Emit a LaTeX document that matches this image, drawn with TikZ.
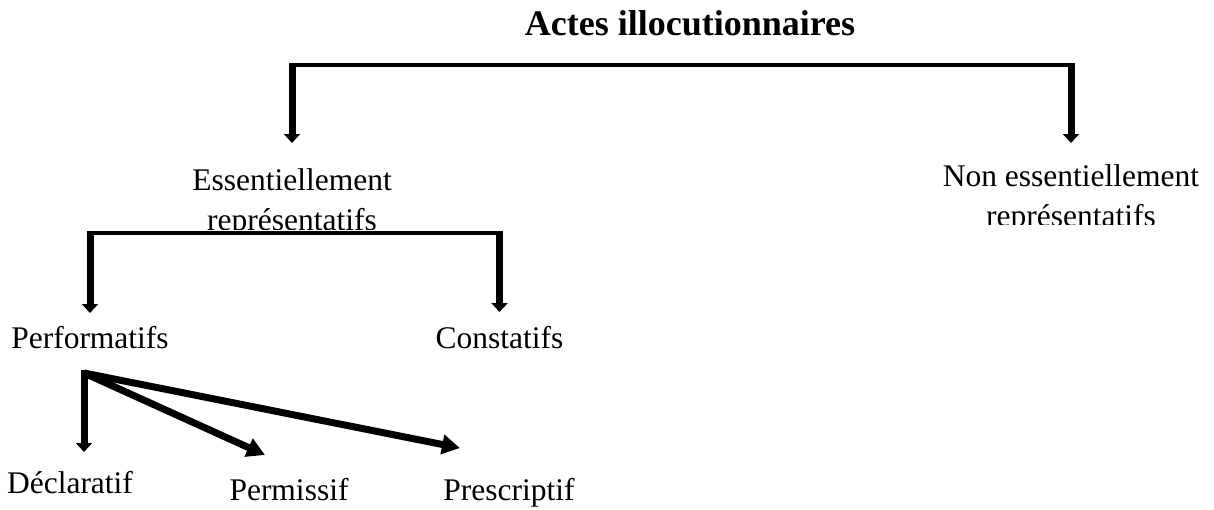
\documentclass[tikz,border=0pt]{standalone}
\usepackage{fontspec}
\setmainfont{Liberation Serif}
\usetikzlibrary{arrows.meta,calc}

\tikzset{
  label/.style={inner sep=0pt, anchor=base, font=\fontsize{31.5}{40}\selectfont},
  titletext/.style={inner sep=0pt, anchor=base, font=\fontsize{36}{42}\selectfont\bfseries},
  hbar/.style={line width=4.5pt, line cap=rect},
  varrow/.style={line width=7pt, -{Triangle[length=9pt,width=16pt]}},
  darrow/.style={line width=7pt, -{Triangle[length=18pt,width=19pt]}},
}

\begin{document}
\begin{tikzpicture}[x=1pt,y=-1pt]
  \useasboundingbox (0,0) rectangle (1214,509);

  % heading
  \node[titletext] (title) at (690,35) {Actes illocutionnaires};

  % first level (second line is cut by the frame of the text box)
  \begin{scope}
    \clip (120,100) rectangle (470,229);
    \node[label] (ess) at (292,190)
      {\begin{tabular}[t]{@{}c@{}}Essentiellement\\représentatifs\end{tabular}};
  \end{scope}
  \begin{scope}
    \clip (900,100) rectangle (1214,224);
    \node[label] (non) at (1071,186)
      {\begin{tabular}[t]{@{}c@{}}Non essentiellement\\représentatifs\end{tabular}};
  \end{scope}

  % second level
  \node[label] (perf)  at (90,348)  {Performatifs};
  \node[label] (const) at (499.5,348) {Constatifs};

  % third level
  \node[label] (decl)  at (70,493)  {Déclaratif};
  \node[label] (perm)  at (289,500) {Permissif};
  \node[label] (presc) at (509,500) {Prescriptif};

  % top bracket
  \coordinate (barAL) at (292,65);
  \coordinate (barAR) at (1071,65);
  \draw[hbar] (barAL) -- (barAR);
  \draw[varrow] ([yshift=2.25pt]barAL) -- ($(ess.base)+(0,-47)$);
  \draw[varrow] ([yshift=2.25pt]barAR) -- ($(non.base)+(0,-43)$);

  % bracket under "Essentiellement représentatifs"
  \coordinate (barBL) at (90,233);
  \coordinate (barBR) at (499.5,233);
  \draw[hbar] (barBL) -- (barBR);
  \draw[varrow] ([yshift=2.25pt]barBL) -- ($(perf.base)+(0,-35)$);
  \draw[varrow] ([yshift=2.25pt]barBR) -- ($(const.base)+(0,-36)$);

  % fan below "Performatifs"
  \coordinate (apex) at ($(perf.base)+(-6,25)$);
  \draw[varrow] ([yshift=3.5pt]apex) -- ($(apex |- decl.base)+(0,-41)$);
  \draw[darrow, line join=miter] (apex) -- ($(perm.base)+(-24,-45)$);
  \draw[darrow, line join=miter] (apex) -- ($(presc.base)+(-49,-52)$);
\end{tikzpicture}
\end{document}
